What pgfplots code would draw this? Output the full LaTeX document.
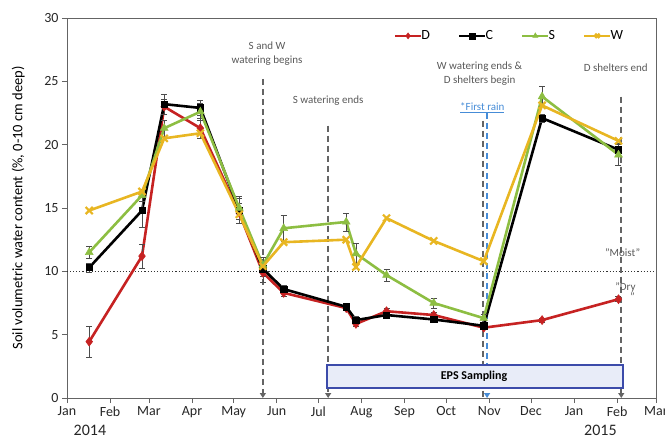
\documentclass[border=0pt]{standalone}
\usepackage{fontspec}
\setmainfont{Carlito}
\usepackage{pgfplots}
\usepackage{pgfplotstable}
\pgfplotsset{compat=1.18}
\usetikzlibrary{arrows.meta}
\definecolor{cD}{RGB}{198,34,34}
\definecolor{cC}{RGB}{0,0,0}
\definecolor{cS}{RGB}{141,190,66}
\definecolor{cW}{RGB}{232,182,34}
\definecolor{annot}{RGB}{89,89,89}
\definecolor{dashg}{RGB}{100,100,100}
\definecolor{rainb}{RGB}{70,140,215}
\definecolor{epsb}{RGB}{60,75,170}
\definecolor{epsf}{RGB}{232,236,248}

\pgfplotstableread{
x y e
16 4.45 1.2
54 11.2 0.95
70 23.0 0.6
96 21.3 0.8
124 14.6 0.8
141 9.9 0.8
156 8.3 0.3
201 7.1 0.2
208 5.85 0.2
230 6.85 0.2
264 6.55 0.2
300 5.55 0.15
342 6.15 0.15
397 7.8 0.2
}\tD
\pgfplotstableread{
x y e
16 10.3 0.35
54 14.8 1.3
70 23.2 0.8
96 22.9 0.6
124 14.8 1.0
141 10.2 0.6
156 8.6 0.3
201 7.2 0.3
208 6.15 0.3
230 6.55 0.2
264 6.2 0.2
300 5.7 0.2
342 22.1 0.3
397 19.6 0.5
}\tC
\pgfplotstableread{
x y e
16 11.5 0.5
54 16.0 0.5
70 21.3 0.6
96 22.6 0.7
124 15.0 0.9
141 10.5 0.6
156 13.4 1.0
201 13.9 0.7
208 11.4 0.8
230 9.7 0.5
264 7.5 0.4
300 6.3 0.3
342 23.8 0.8
397 19.2 0.8
}\tS
\pgfplotstableread{
x y e
16 14.8 0.3
54 16.3 0.4
70 20.5 0.5
96 20.9 0.5
124 14.5 0.8
141 10.4 0.5
156 12.3 0.4
201 12.5 0.4
208 10.35 0.4
230 14.2 0.3
264 12.4 0.3
300 10.8 0.3
342 23.1 0.5
397 20.3 0.5
}\tW

\begin{document}
\begin{tikzpicture}
\path[use as bounding box] (-67pt,-39pt) rectangle (598pt,398pt);
\begin{axis}[
  scale only axis, width=589pt, height=380pt,
  xmin=0, xmax=424, ymin=0, ymax=30,
  xtick={0,31,59,90,120,151,181,212,243,273,304,334,365,396,424},
  xticklabels={Jan,Feb,Mar,Apr,May,Jun,Jul,Aug,Sep,Oct,Nov,Dec,Jan,Feb,Mar},
  ytick={0,5,10,15,20,25,30},
  tick align=outside, tick pos=left,
  major tick length=5pt,
  axis line style={dashg, line width=0.8pt},
  tick style={dashg, line width=0.8pt},
  ticklabel style={font=\fontsize{14}{14}\selectfont, text=black!85},
  /pgf/number format/assume math mode=true,
  ylabel={Soil volumetric water content (\%, 0-10 cm deep)},
  ylabel style={at={(axis description cs:-0.083,0.5)}, anchor=center, font=\fontsize{14.5}{14.5}\selectfont},
  clip=false,
  legend columns=4,
  legend style={draw=none, fill=none, at={(axis description cs:0.953,0.978)}, anchor=north east,
    font=\fontsize{14}{14}\selectfont,
    /tikz/every odd column/.append style={column sep=-3pt},
    /tikz/every even column/.append style={column sep=26pt}},
  legend image code/.code={\draw[mark repeat=2,mark phase=2, mark size=3pt] plot coordinates {(0pt,0pt) (13pt,0pt) (26pt,0pt)};},
  error bars/error bar style={line width=0.6pt, black!70, solid},
  error bars/error mark options={rotate=90, mark size=3pt, line width=0.6pt, black!70, solid},
]
% reference lines
\addplot[forget plot, black!80, dotted, line width=1.1pt] coordinates {(0,10) (424,10)};
\addplot[forget plot, dashg, line width=1.8pt, dash pattern=on 6pt off 4pt, -{Triangle[width=6pt,length=5pt]}] coordinates {(141,25.2) (141,0)};
\addplot[forget plot, dashg, line width=1.8pt, dash pattern=on 6pt off 4pt, -{Triangle[width=6pt,length=5pt]}] coordinates {(188,21.5) (188,0)};
\addplot[forget plot, dashg, line width=1.8pt, dash pattern=on 6pt off 4pt] coordinates {(299.5,21.9) (299.5,0)};
\addplot[forget plot, rainb, line width=1.8pt, dash pattern=on 6pt off 4pt, -{Triangle[width=6pt,length=5pt]}] coordinates {(302.4,22.5) (302.4,0)};
\addplot[forget plot, dashg, line width=1.8pt, dash pattern=on 6pt off 4pt, -{Triangle[width=6pt,length=5pt]}] coordinates {(399,23.8) (399,0)};
% EPS box
\draw[epsb, line width=1.8pt, fill=epsf] (axis cs:187,0.8) rectangle (axis cs:400,2.6);
\node[font=\fontsize{12}{12}\selectfont\bfseries] at (axis cs:293,1.7) {EPS Sampling};
% series
\addplot[cD, line width=2.6pt, mark=diamond*, mark size=4.5pt, mark options={solid, fill=cD, line width=0.5pt},
  error bars/.cd, y dir=both, y explicit] table[x=x, y=y, y error=e] {\tD};
\addlegendentry{D}
\addplot[cC, line width=2.6pt, mark=square*, mark size=3.2pt, mark options={solid, fill=cC, line width=0.5pt},
  error bars/.cd, y dir=both, y explicit] table[x=x, y=y, y error=e] {\tC};
\addlegendentry{C}
\addplot[cS, line width=2.6pt, mark=triangle*, mark size=4.5pt, mark options={solid, fill=cS, line width=0.5pt},
  error bars/.cd, y dir=both, y explicit] table[x=x, y=y, y error=e] {\tS};
\addlegendentry{S}
\addplot[cW, line width=2.6pt, mark=x, mark size=5pt, mark options={solid, line width=2.2pt}] table[x=x, y=y] {\tW};
\addlegendentry{W}
% annotations
\node[annot, font=\fontsize{11}{14}\selectfont, align=center] at (axis cs:144,27.15) {S and W\\watering begins};
\node[annot, font=\fontsize{11}{14}\selectfont] at (axis cs:188,23.44) {S watering ends};
\node[annot, font=\fontsize{11}{14}\selectfont, align=center] at (axis cs:297,25.6) {W watering ends \&\\D shelters begin};
\node[rainb, font=\fontsize{11}{14}\selectfont] at (axis cs:299,22.9) {\underline{*First rain}};
\node[annot, font=\fontsize{11}{14}\selectfont] at (axis cs:395,26.1) {D shelters end};
\node[annot, font=\fontsize{11}{14}\selectfont] at (axis cs:400,11.5) {"Moist"};
\node[annot, font=\fontsize{11}{14}\selectfont] at (axis cs:402,8.76) {"Dry};
\node[annot, font=\fontsize{11}{14}\selectfont] at (axis cs:407,7.97) {"};
% years
\node[font=\fontsize{16}{16}\selectfont, text=black!85] at (axis cs:16.5,0) [yshift=-32pt] {2014};
\node[font=\fontsize{16}{16}\selectfont, text=black!85] at (axis cs:384,0) [yshift=-32pt] {2015};
\end{axis}
\end{tikzpicture}
\end{document}
